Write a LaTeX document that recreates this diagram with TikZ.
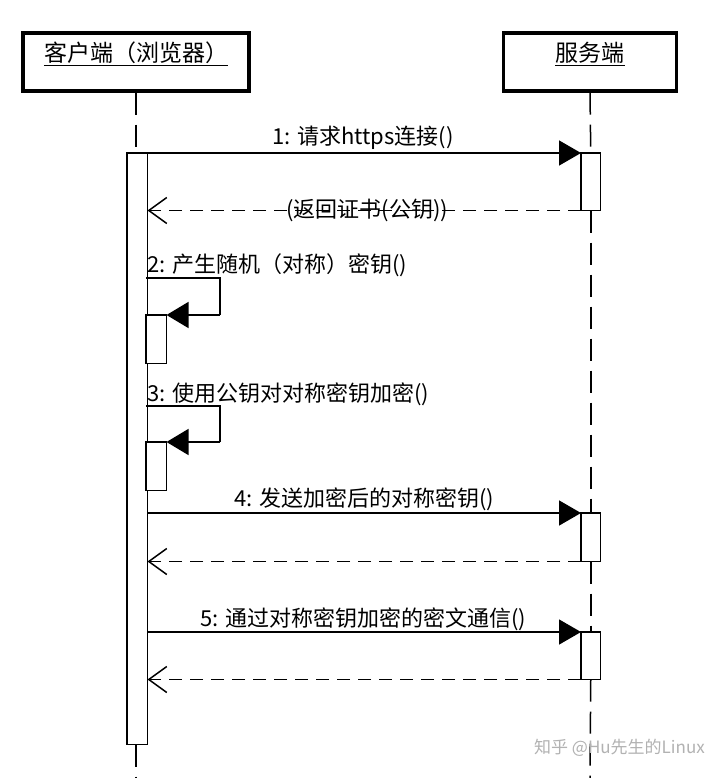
\documentclass[tikz,border=0pt]{standalone}
\usepackage{fontspec}
\newfontfamily\cjk{Noto Sans CJK SC}
\usetikzlibrary{arrows.meta}
\begin{document}
\begin{tikzpicture}[x=1pt,y=-1pt,
  headbox/.style={draw, line width=3.2pt, minimum width=226, minimum height=58, inner sep=0},
  headtext/.style={inner sep=0, font=\cjk\fontsize{23}{27}\selectfont},
  lbl/.style={inner sep=0, font=\cjk\fontsize{22}{26}\selectfont},
  actbar/.style={draw, fill=white, line width=1.5pt, minimum width=19, inner sep=0, anchor=north west},
  msg/.style={line width=1.5pt, -{Triangle[length=22pt,width=25pt]}},
  ret/.style={line width=1.5pt, dash pattern=on 13pt off 8pt, -{Straight Barb[length=18pt,width=26pt,line width=1.5pt]}},
  selfmsg/.style={line width=1.5pt, -{Triangle[length=22pt,width=26pt]}},
  life/.style={line width=1.5pt, dash pattern=on 22pt off 10pt}]
\useasboundingbox (0,0) rectangle (720,778);
\fill[white] (0,0) rectangle (720,778);

% headers
\node[headbox] (cbox) at (136,62) {};
\node[headtext] (ctext) at (136,53) {客户端（浏览器）};
\draw[line width=1.1pt] ([yshift=-4pt]ctext.base west) -- ([yshift=-4pt]ctext.base east);
\node[headbox, minimum width=173] (sbox) at (590,62) {};
\node[headtext] (stext) at (590,53) {服务端};
\draw[line width=1.1pt] ([yshift=-4pt]stext.base west) -- ([yshift=-4pt]stext.base east);

% end coordinates of lifelines
\coordinate (cend) at (136,778);
\coordinate (send) at (590,778);

% activation bars
\path
  node[actbar, minimum height=590] (cact) at (127,153) {}
  node[actbar, minimum width=18, minimum height=56] (s1) at (581,153) {}
  node[actbar, minimum width=18, minimum height=47] (s2) at (581,513) {}
  node[actbar, minimum width=18, minimum height=46] (s3) at (581,632) {}
  node[actbar, minimum height=47] (n1) at (146,315) {}
  node[actbar, minimum height=47] (n2) at (146,442) {};

% lifelines
\draw[life] (cbox.south) -- (cbox.south |- cact.north);
\draw[life] (cbox.south |- cact.south) -- (cend);
\draw[life] (sbox.south) -- (s1.north);
\draw[life] (s1.south) -- (s2.north);
\draw[life] (s2.south) -- (s3.north);
\draw[life] (s3.south) -- (send);

% redraw bars on top
\draw[line width=1.5pt, fill=white] (cact.north west) rectangle (cact.south east);
\foreach \b in {s1,s2,s3,n1,n2}
  \draw[line width=1.5pt, fill=white] (\b.north west) rectangle (\b.south east);

% message 1
\node[lbl] (m1) at (363,138) {1: 请求https连接()};
\draw[msg] (cact.north east) -- (s1.north west);
\node[lbl] (r1) at (367,210) {(返回证书(公钥))};
\draw[ret] (s1.south west) -- (s1.south west -| cact.east);

% self message 2
\coordinate (a2) at (146,278);
\coordinate (b2) at (220,278);
\coordinate (c2) at (220,315);
\node[lbl, anchor=west] (m2) at (147,265) {2: 产生随机（对称）密钥()};
\draw[line width=1.5pt] (a2) -- (b2) -- (c2);
\draw[selfmsg] (c2) -- (n1.north east);
\draw[line width=1.5pt] (n1.north west) -- (n1.north east);

% self message 3
\coordinate (a3) at (146,406);
\coordinate (b3) at (220,406);
\coordinate (c3) at (220,442);
\node[lbl, anchor=west] (m3) at (147,394) {3: 使用公钥对对称密钥加密()};
\draw[line width=1.5pt] (a3) -- (b3) -- (c3);
\draw[selfmsg] (c3) -- (n2.north east);
\draw[line width=1.5pt] (n2.north west) -- (n2.north east);

% message 4
\node[lbl] (m4) at (364,499) {4: 发送加密后的对称密钥()};
\draw[msg] (cact.east |- s2.north west) -- (s2.north west);
\draw[ret] (s2.south west) -- (s2.south west -| cact.east);

% message 5
\node[lbl] (m5) at (363,619) {5: 通过对称密钥加密的密文通信()};
\draw[msg] (cact.east |- s3.north west) -- (s3.north west);
\draw[ret] (s3.south west) -- (s3.south west -| cact.east);

% watermark
\node[inner sep=0, text=gray!60, font=\cjk\fontsize{17}{21}\selectfont, anchor=east] (wm) at (705,748) {知乎 @Hu先生的Linux};
\end{tikzpicture}
\end{document}
